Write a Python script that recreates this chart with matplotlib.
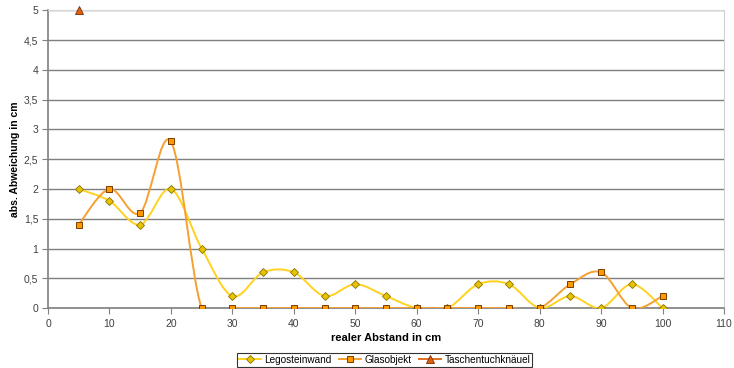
import matplotlib.pyplot as plt
from matplotlib.path import Path
from matplotlib.patches import PathPatch
from matplotlib.ticker import FuncFormatter, MultipleLocator

plt.rcParams['font.family'] = ['Liberation Sans', 'DejaVu Sans']

# Messwerte
abstand = [5, 10, 15, 20, 25, 30, 35, 40, 45, 50, 55, 60, 65, 70, 75, 80, 85, 90, 95, 100]
lego = [2, 1.8, 1.4, 2, 1, 0.2, 0.6, 0.6, 0.2, 0.4, 0.2, 0, 0, 0.4, 0.4, 0, 0.2, 0, 0.4, 0]
glas = [1.4, 2, 1.6, 2.8, 0, 0, 0, 0, 0, 0, 0, 0, 0, 0, 0, 0, 0.4, 0.6, 0, 0.2]
tuch_x = [5]
tuch = [5]


def smooth_path(xs, ys):
    # Bezier-Kurve durch alle Punkte (Glättung wie in der Tabellenkalkulation)
    pts = list(zip(xs, ys))
    verts = [pts[0]]
    codes = [Path.MOVETO]
    n = len(pts)
    for i in range(n - 1):
        p0 = pts[i - 1] if i > 0 else pts[i]
        p1 = pts[i]
        p2 = pts[i + 1]
        p3 = pts[i + 2] if i + 2 < n else pts[i + 1]
        c1 = (p1[0] + (p2[0] - p0[0]) / 6, p1[1] + (p2[1] - p0[1]) / 6)
        c2 = (p2[0] - (p3[0] - p1[0]) / 6, p2[1] - (p3[1] - p1[1]) / 6)
        verts += [c1, c2, p2]
        codes += [Path.CURVE4] * 3
    return Path(verts, codes)


fig = plt.figure(figsize=(7.34, 3.68), dpi=100)
ax = fig.add_axes([0.0654, 0.163, 0.921, 0.8085])

ax.add_patch(PathPatch(smooth_path(abstand, lego), fill=False,
                       edgecolor='#FFD21F', lw=1.4, zorder=3))
ax.add_patch(PathPatch(smooth_path(abstand, glas), fill=False,
                       edgecolor='#F5A030', lw=1.4, zorder=3))

ax.plot(abstand, lego, linestyle='none', marker='D', ms=4.2,
        mfc='#E8C400', mec='#8A7000', mew=0.6, zorder=4)
ax.plot(abstand, glas, linestyle='none', marker='s', ms=5,
        mfc='#FF9900', mec='#7A3C00', mew=0.7, zorder=5)
ax.plot(tuch_x, tuch, linestyle='none', marker='^', ms=5.5,
        mfc='#E06010', mec='#7A2A00', mew=0.6, zorder=6, clip_on=False)

# Legende mit Linien-Symbolen
h1, = ax.plot([], [], color='#FFD21F', lw=1.4, marker='D', ms=4.2,
              mfc='#E8C400', mec='#8A7000', mew=0.6)
h2, = ax.plot([], [], color='#F5A030', lw=1.4, marker='s', ms=5,
              mfc='#FF9900', mec='#7A3C00', mew=0.7)
h3, = ax.plot([], [], color='#E07020', lw=1.4, marker='^', ms=5.5,
              mfc='#E06010', mec='#7A2A00', mew=0.6)
leg = fig.legend([h1, h2, h3], ['Legosteinwand', 'Glasobjekt', 'Taschentuchknäuel'],
                 loc='center', bbox_to_anchor=(0.524, 0.022), ncol=3, fontsize=7.2,
                 frameon=True, fancybox=False, edgecolor='black', handlelength=2.2,
                 handletextpad=0.3, columnspacing=0.8, borderpad=0.2)
leg.get_frame().set_linewidth(0.8)

ax.set_xlim(0, 110)
ax.set_ylim(0, 5)
ax.xaxis.set_major_locator(MultipleLocator(10))
ax.yaxis.set_major_locator(MultipleLocator(0.5))
ax.yaxis.set_major_formatter(FuncFormatter(lambda v, p: ('%g' % v).replace('.', ',')))
ax.tick_params(labelsize=7.5, labelcolor='#404040', color='#808080',
               length=4, width=0.8, pad=3)
ax.tick_params(axis='x', pad=4)

ax.grid(axis='y', color='#7F7F7F', lw=1)
ax.set_axisbelow(True)
for s in ['left', 'bottom']:
    ax.spines[s].set_color('#808080')
    ax.spines[s].set_linewidth(1.2)
ax.spines['right'].set_color('#D0D0D0')
ax.spines['top'].set_color('#D8D8D8')

ax.set_xlabel('realer Abstand in cm', fontsize=8, fontweight='bold', labelpad=3)
ax.set_ylabel('abs. Abweichung in cm', fontsize=7.5, fontweight='bold', labelpad=3)

fig.savefig('out.png', dpi=100)
